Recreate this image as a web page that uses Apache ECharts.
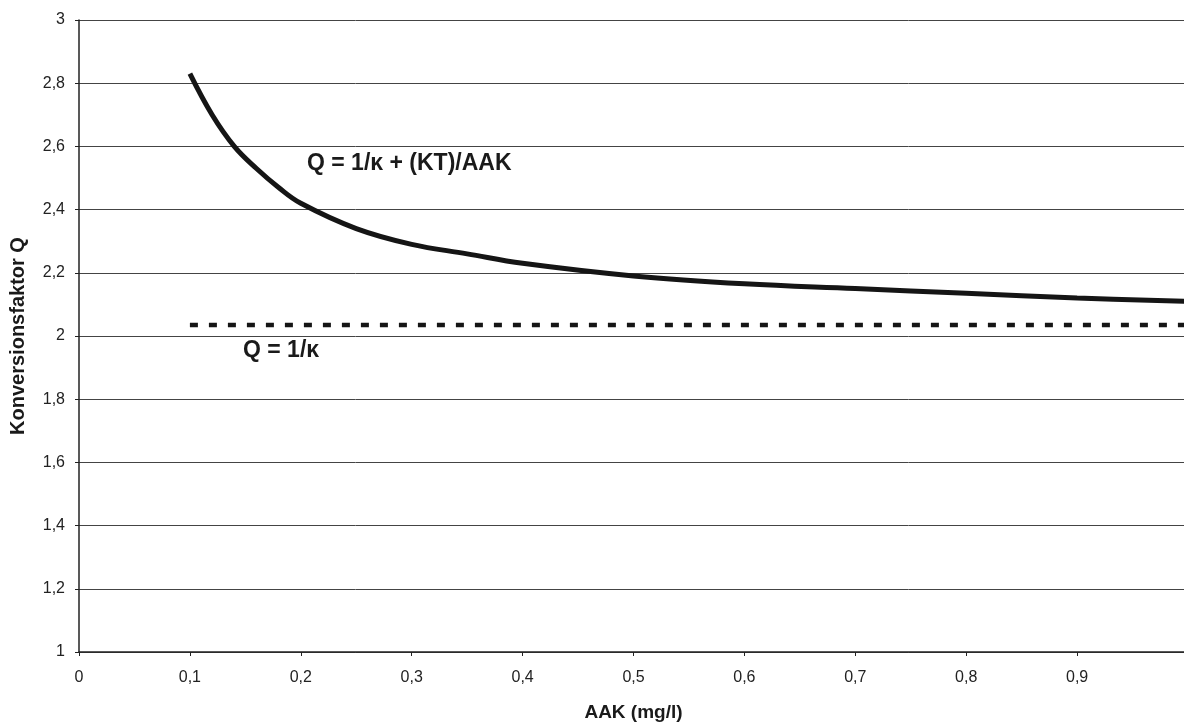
<!DOCTYPE html>
<html>
<head>
<meta charset="utf-8">
<script src="https://cdn.jsdelivr.net/npm/echarts@6/dist/echarts.min.js"></script>
<style>
  html, body { margin: 0; padding: 0; background: #fff; }
  #chart { width: 1184px; height: 722px; }
</style>
</head>
<body>
<div id="chart"></div>
<script>
// Werte
var aak = [0.1, 0.12, 0.14, 0.16, 0.18, 0.2, 0.25, 0.3, 0.35, 0.4, 0.5, 0.6, 0.7, 0.8, 0.9, 1.0];
var qKurve = [2.83, 2.70, 2.60, 2.53, 2.47, 2.42, 2.34, 2.29, 2.26, 2.23, 2.19, 2.165, 2.15, 2.135, 2.12, 2.11];
var qKonst = 2.035;
var konstX = [0.1, 1.0];

var komma = function (v) { return String(Math.round(v * 10) / 10).replace('.', ','); };

var kurve = aak.map(function (x, i) { return [x, qKurve[i]]; });
var konst = konstX.map(function (x) { return [x, qKonst]; });

var myChart = echarts.init(document.getElementById('chart'));

var font = 'Liberation Sans, Arial, sans-serif';

myChart.setOption({
  backgroundColor: '#fff',
  animation: false,
  grid: { left: 79, right: -4, top: 20, bottom: 70, containLabel: false, outerBoundsMode: 'none' },
  xAxis: {
    type: 'value',
    min: 0,
    max: 1,
    interval: 0.1,
    name: 'AAK (mg/l)',
    nameLocation: 'middle',
    nameGap: 51,
    nameTextStyle: { fontFamily: font, fontSize: 19, fontWeight: 'bold', color: '#1a1a1a' },
    axisLine: { lineStyle: { color: '#222', width: 1.5 } },
    axisTick: { show: true, inside: false, length: 4, lineStyle: { color: '#222' } },
    axisLabel: {
      fontFamily: font, fontSize: 16, color: '#222', margin: 18,
      showMaxLabel: false,
      formatter: komma
    },
    splitLine: { show: false }
  },
  yAxis: {
    type: 'value',
    min: 1,
    max: 3,
    interval: 0.2,
    name: 'Konversionsfaktor Q',
    nameLocation: 'middle',
    nameGap: 51,
    nameTextStyle: { fontFamily: font, fontSize: 20, fontWeight: 'bold', color: '#1a1a1a' },
    axisLine: { show: true, lineStyle: { color: '#222', width: 1.5 } },
    axisTick: { show: true, length: 4, lineStyle: { color: '#222' } },
    axisLabel: {
      fontFamily: font, fontSize: 16, color: '#222', margin: 14,
      formatter: komma
    },
    splitLine: { show: true, lineStyle: { color: '#444', width: 1 } }
  },
  series: [
    {
      type: 'line',
      data: kurve,
      smooth: 0.4,
      showSymbol: false,
      clip: false,
      lineStyle: { color: '#151515', width: 5 }
    },
    {
      type: 'line',
      data: konst,
      showSymbol: false,
      clip: false,
      lineStyle: { color: '#151515', width: 4.5, type: [8, 11] }
    }
  ],
  graphic: [
    {
      type: 'text', left: 307, top: 152,
      style: { text: 'Q = 1/κ + (KT)/AAK', fontFamily: font, fontSize: 23, fontWeight: 'bold', fill: '#1a1a1a' }
    },
    {
      type: 'text', left: 243, top: 339,
      style: { text: 'Q = 1/κ', fontFamily: font, fontSize: 23, fontWeight: 'bold', fill: '#1a1a1a' }
    }
  ]
});
</script>
</body>
</html>
